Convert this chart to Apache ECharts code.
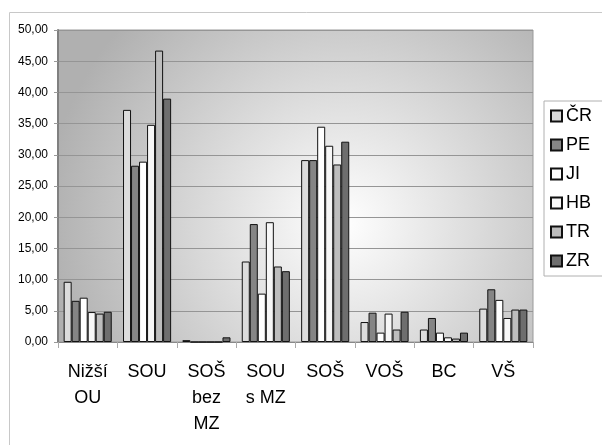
<!DOCTYPE html>
<html>
<head>
<meta charset="utf-8">
<script src="https://cdn.jsdelivr.net/npm/echarts@6/dist/echarts.min.js"></script>
<style>html,body{margin:0;padding:0;background:#fff}#c{width:602px;height:445px}</style>
</head>
<body>
<div id="c"></div>
<script>
const categories = ['Nižší\nOU', 'SOU', 'SOŠ\nbez\nMZ', 'SOU\ns MZ', 'SOŠ', 'VOŠ', 'BC', 'VŠ'];
const seriesNames = ['ČR', 'PE', 'JI', 'HB', 'TR', 'ZR'];
const CR = [9.65, 37.2, 0.3, 12.9, 29.15, 3.2, 2.0, 5.35];
const PE = [6.6, 28.25, 0, 18.9, 29.15, 4.7, 3.85, 8.45];
const JI = [7.1, 28.9, 0, 7.75, 34.5, 1.5, 1.5, 6.75];
const HB = [4.8, 34.8, 0, 19.2, 31.45, 4.55, 0.75, 3.85];
const TR = [4.55, 46.7, 0, 12.1, 28.45, 2.0, 0.55, 5.2];
const ZR = [4.85, 39.0, 0.75, 11.35, 32.1, 4.85, 1.5, 5.2];
const yTicks = { min: 0, max: 50, interval: 5 };

const values = [CR, PE, JI, HB, TR, ZR];
const colors = ['#dcdcdc', '#858585', '#ffffff', '#f7f7f7', '#bdbdbd', '#6e6e6e'];

const chart = echarts.init(document.getElementById('c'), null, { renderer: 'canvas' });
const font = 'Liberation Sans, Arial, sans-serif';
chart.setOption({
  animation: false,
  textStyle: { fontFamily: font },
  graphic: [{
    type: 'rect', left: 7, top: 10, z: -10, silent: true,
    shape: { x: 0.5, y: 0.5, width: 700, height: 500 },
    style: { fill: 'none', stroke: '#c8c8c8', lineWidth: 1 }
  }],
  grid: {
    left: 58, top: 30, right: 69, bottom: 103,
    show: true,
    borderColor: '#9a9a9a', borderWidth: 1,
    backgroundColor: {
      type: 'radial', x: 0.6, y: 0.62, r: 0.95,
      colorStops: [
        { offset: 0, color: '#ffffff' },
        { offset: 1, color: '#b0b0b0' }
      ]
    }
  },
  legend: {
    orient: 'vertical',
    left: 544, top: 101,
    padding: [6, 40, 6, 6],
    backgroundColor: '#ffffff',
    borderColor: '#b0b0b0', borderWidth: 1,
    itemWidth: 11, itemHeight: 11, itemGap: 11,
    icon: 'rect',
    textStyle: { fontSize: 18, color: '#000', fontFamily: font, padding: [0, 0, 0, -1] },
    data: seriesNames
  },
  xAxis: {
    type: 'category',
    data: categories,
    axisLine: { show: true, lineStyle: { color: '#888', width: 1 } },
    axisTick: { show: true, length: 6, lineStyle: { color: '#aaa' } },
    axisLabel: { fontSize: 18, color: '#000', lineHeight: 26, margin: 17, interval: 0, fontFamily: font }
  },
  yAxis: {
    type: 'value',
    min: yTicks.min, max: yTicks.max, interval: yTicks.interval,
    axisLine: { show: true, lineStyle: { color: '#808080', width: 2 } },
    axisTick: { show: true, length: 4, lineStyle: { color: '#999' } },
    splitLine: { show: true, lineStyle: { color: '#959595', width: 1 } },
    axisLabel: {
      fontSize: 12, color: '#000', margin: 10, fontFamily: font,
      formatter: v => v.toFixed(2).replace('.', ',')
    }
  },
  series: seriesNames.map((n, i) => ({
    name: n, type: 'bar', data: values[i],
    barGap: '0%', barCategoryGap: '19%',
    itemStyle: { color: colors[i], borderColor: '#111', borderWidth: 1 }
  }))
});
</script>
</body>
</html>
